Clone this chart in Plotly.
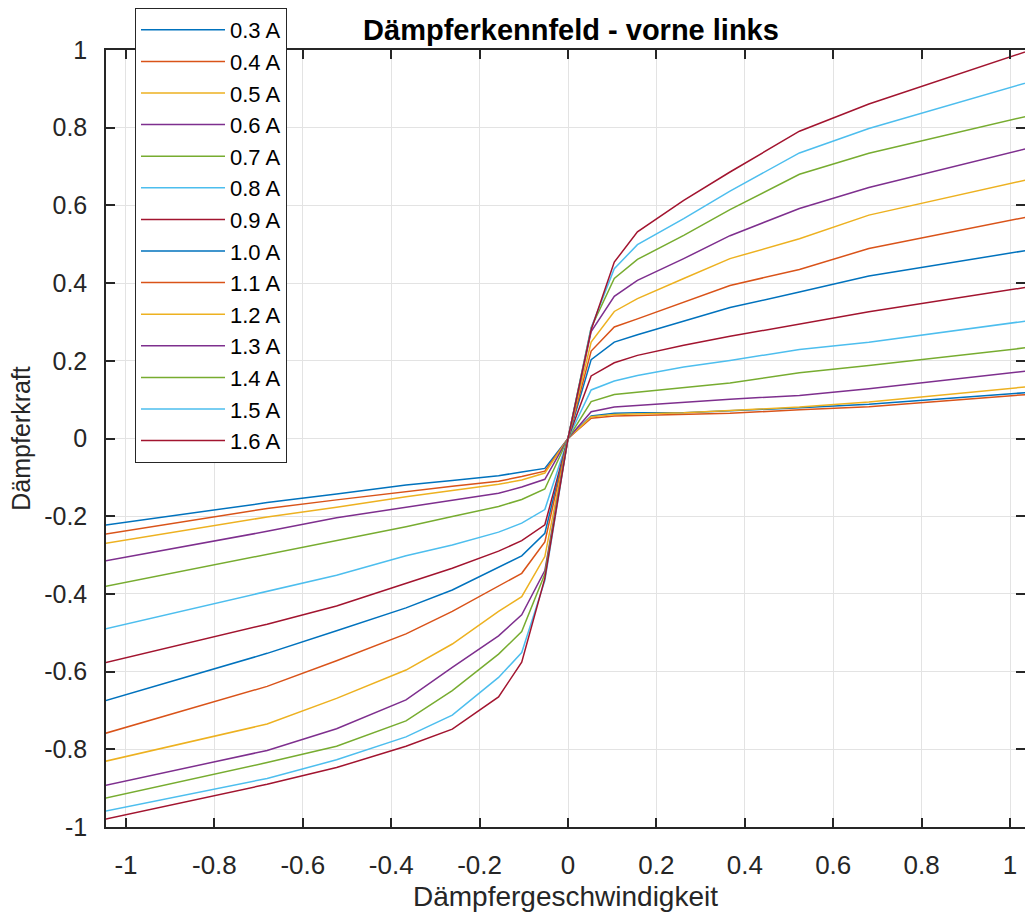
import plotly.graph_objects as go

# Damper velocity breakpoints
velocity = [-1.0472, -0.6807, -0.5236, -0.3665, -0.2618, -0.1571, -0.1047, -0.0524, 0.0,
            0.0524, 0.1047, 0.1571, 0.2618, 0.3665, 0.5236, 0.6807, 1.0472]

currents = ["0.3 A", "0.4 A", "0.5 A", "0.6 A", "0.7 A", "0.8 A", "0.9 A",
            "1.0 A", "1.1 A", "1.2 A", "1.3 A", "1.4 A", "1.5 A", "1.6 A"]

f_03 = [-0.223, -0.165, -0.143, -0.120, -0.108, -0.096, -0.086, -0.077, 0, 0.058, 0.065, 0.066, 0.066, 0.071, 0.079, 0.088, 0.119]
f_04 = [-0.246, -0.180, -0.158, -0.136, -0.123, -0.110, -0.098, -0.084, 0, 0.052, 0.058, 0.059, 0.062, 0.065, 0.074, 0.082, 0.114]
f_05 = [-0.270, -0.202, -0.177, -0.150, -0.134, -0.118, -0.107, -0.089, 0, 0.056, 0.062, 0.063, 0.066, 0.072, 0.081, 0.094, 0.134]
f_06 = [-0.315, -0.239, -0.204, -0.177, -0.160, -0.141, -0.125, -0.105, 0, 0.069, 0.081, 0.085, 0.094, 0.101, 0.111, 0.128, 0.175]
f_07 = [-0.381, -0.299, -0.262, -0.227, -0.201, -0.175, -0.157, -0.130, 0, 0.095, 0.113, 0.119, 0.132, 0.143, 0.169, 0.188, 0.235]
f_08 = [-0.490, -0.393, -0.352, -0.302, -0.274, -0.241, -0.218, -0.183, 0, 0.125, 0.148, 0.162, 0.184, 0.201, 0.229, 0.248, 0.304]
f_09 = [-0.577, -0.478, -0.431, -0.372, -0.334, -0.290, -0.263, -0.222, 0, 0.161, 0.195, 0.214, 0.240, 0.263, 0.295, 0.326, 0.391]
f_10 = [-0.675, -0.553, -0.495, -0.436, -0.390, -0.332, -0.302, -0.244, 0, 0.203, 0.248, 0.267, 0.302, 0.337, 0.377, 0.418, 0.486]
f_11 = [-0.759, -0.638, -0.572, -0.503, -0.445, -0.379, -0.347, -0.266, 0, 0.225, 0.287, 0.308, 0.351, 0.394, 0.435, 0.489, 0.572]
f_12 = [-0.831, -0.735, -0.669, -0.596, -0.529, -0.445, -0.407, -0.304, 0, 0.248, 0.327, 0.360, 0.412, 0.463, 0.514, 0.575, 0.668]
f_13 = [-0.893, -0.803, -0.747, -0.673, -0.589, -0.508, -0.454, -0.340, 0, 0.275, 0.366, 0.407, 0.463, 0.522, 0.592, 0.646, 0.749]
f_14 = [-0.926, -0.834, -0.792, -0.727, -0.649, -0.555, -0.497, -0.349, 0, 0.285, 0.412, 0.461, 0.523, 0.589, 0.680, 0.734, 0.832]
f_15 = [-0.959, -0.875, -0.827, -0.768, -0.712, -0.615, -0.551, -0.366, 0, 0.285, 0.437, 0.499, 0.566, 0.637, 0.735, 0.798, 0.919]
f_16 = [-0.980, -0.890, -0.847, -0.792, -0.748, -0.665, -0.576, -0.360, 0, 0.280, 0.454, 0.532, 0.613, 0.686, 0.791, 0.861, 1.000]

forces = [f_03, f_04, f_05, f_06, f_07, f_08, f_09, f_10, f_11, f_12, f_13, f_14, f_15, f_16]

colors = ["#0072BD", "#D95319", "#EDB120", "#7E2F8E", "#77AC30", "#4DBEEE", "#A2142F"]

x_ticks = [-1, -0.8, -0.6, -0.4, -0.2, 0, 0.2, 0.4, 0.6, 0.8, 1]
x_ticktext = ["-1", "-0.8", "-0.6", "-0.4", "-0.2", "0", "0.2", "0.4", "0.6", "0.8", "1"]
y_ticks = [-1, -0.8, -0.6, -0.4, -0.2, 0, 0.2, 0.4, 0.6, 0.8, 1]
y_ticktext = ["-1", "-0.8", "-0.6", "-0.4", "-0.2", "0", "0.2", "0.4", "0.6", "0.8", "1"]

fig = go.Figure()
for i, (name, f) in enumerate(zip(currents, forces)):
    fig.add_trace(go.Scatter(
        x=velocity, y=f, mode="lines", name=name,
        line=dict(color=colors[i % len(colors)], width=1.5),
    ))

axis_col = "#262626"
grid_col = "#e3e3e3"
fnt = "Liberation Sans, Arial, sans-serif"
fig.update_layout(
    width=1025, height=912,
    margin=dict(l=106, r=0, t=50, b=85, autoexpand=False),
    paper_bgcolor="white", plot_bgcolor="white",
    font=dict(family=fnt, color=axis_col),
    title=dict(text="<b>Dämpferkennfeld - vorne links</b>",
               font=dict(size=29, color="black", family=fnt),
               x=571 / 1025, xanchor="center", xref="container",
               y=1 - 30 / 912, yanchor="middle", yref="container"),
    xaxis=dict(range=[-1.0452, 1.0339], tickvals=x_ticks, ticktext=x_ticktext,
               showgrid=True, gridcolor=grid_col, gridwidth=1, zeroline=False,
               showline=True, linecolor=axis_col, linewidth=1.5, mirror="ticks",
               ticks="inside", ticklen=9, tickwidth=1.5, tickcolor=axis_col,
               ticklabelstandoff=14,
               tickfont=dict(family=fnt, size=26, color=axis_col),
               title=dict(text="Dämpfergeschwindigkeit", standoff=12,
                          font=dict(family=fnt, size=28, color=axis_col))),
    yaxis=dict(range=[-1, 1], tickvals=y_ticks, ticktext=y_ticktext,
               showgrid=True, gridcolor=grid_col, gridwidth=1, zeroline=False,
               showline=True, linecolor=axis_col, linewidth=1.5, mirror="ticks",
               ticks="inside", ticklen=9, tickwidth=1.5, tickcolor=axis_col,
               ticklabelstandoff=12,
               tickfont=dict(size=25, color=axis_col),
               title=dict(text="Dämpferkraft", standoff=6, font=dict(size=25, color=axis_col))),
    legend=dict(x=(135 - 106) / 919, y=1 - 8 / 912, xanchor="left", yanchor="top",
                yref="container",
                bgcolor="white", bordercolor=axis_col, borderwidth=1,
                font=dict(size=22, color="black"), itemwidth=84,
                entrywidth=68, entrywidthmode="pixels",
                tracegroupgap=0),
    showlegend=True,
)

fig.write_html("out.html")
